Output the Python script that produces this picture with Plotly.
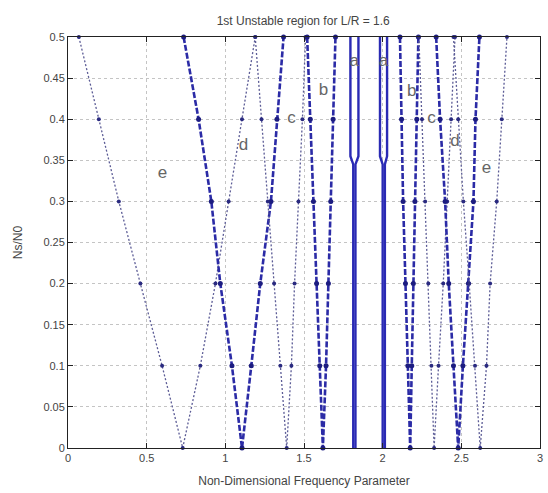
import plotly.graph_objects as go

# Non-dimensional frequency at Ns/N0 = 0, 0.1, ..., 0.5 for each boundary
ns_levels = [0, 0.1, 0.2, 0.3, 0.4, 0.5]

e1_left = [0.729, 0.598, 0.460, 0.323, 0.196, 0.069]
e1_right = [0.729, 0.841, 0.937, 1.021, 1.106, 1.190]
d1_left = [1.106, 1.042, 0.968, 0.911, 0.830, 0.735]
d1_right = [1.106, 1.165, 1.222, 1.290, 1.328, 1.370]
c1_left = [1.390, 1.350, 1.310, 1.270, 1.230, 1.190]
c1_right = [1.390, 1.420, 1.440, 1.465, 1.490, 1.510]
b1_left = [1.620, 1.600, 1.580, 1.560, 1.540, 1.520]
b1_right = [1.620, 1.640, 1.655, 1.670, 1.685, 1.700]
b2_left = [2.175, 2.160, 2.145, 2.130, 2.120, 2.110]
b2_right = [2.175, 2.185, 2.195, 2.205, 2.217, 2.227]
c2_left = [2.327, 2.310, 2.290, 2.270, 2.250, 2.230]
c2_right = [2.327, 2.355, 2.385, 2.410, 2.435, 2.460]
d2_left = [2.480, 2.450, 2.420, 2.397, 2.365, 2.340]
d2_right = [2.480, 2.510, 2.545, 2.577, 2.590, 2.615]
e2_left = [2.620, 2.587, 2.550, 2.513, 2.480, 2.450]
e2_right = [2.620, 2.660, 2.683, 2.725, 2.757, 2.790]

# Narrow "a" regions
a_levels = [0, 0.345, 0.355, 0.5]
a1_left = [1.813, 1.813, 1.795, 1.795]
a1_right = [1.827, 1.827, 1.846, 1.846]
a2_left = [2.000, 2.000, 1.983, 1.983]
a2_right = [2.014, 2.014, 2.028, 2.028]

# Region labels
label_text = ["e", "d", "c", "b", "a", "a", "b", "c", "d", "e"]
label_x = [0.60, 1.116, 1.42, 1.624, 1.82, 2.005, 2.185, 2.31, 2.46, 2.66]
label_y = [0.334, 0.368, 0.40, 0.435, 0.47, 0.47, 0.433, 0.40, 0.372, 0.34]

x_ticks = [0, 0.5, 1, 1.5, 2, 2.5, 3]
x_tick_text = ["0", "0.5", "1", "1.5", "2", "2.5", "3"]
y_ticks = [0, 0.05, 0.1, 0.15, 0.2, 0.25, 0.3, 0.35, 0.4, 0.45, 0.5]
y_tick_text = ["0", "0.05", "0.1", "0.15", "0.2", "0.25", "0.3", "0.35", "0.4", "0.45", "0.5"]

DOTTED = dict(color="#5c5c96", width=1.3, dash="2px,2px")
DASHED = dict(color="#2b2ba6", width=2.6, dash="6px,2px")
SOLID = dict(color="#2a2ab4", width=2.4)
MARK_DOT = dict(symbol="circle", size=4, color="#2a2a80")
MARK_DASH = dict(symbol="circle", size=5, color="#1c1c80")

fig = go.Figure()


def add_region(left, right, line, marker):
    xs = list(reversed(left)) + right[1:]
    ys = list(reversed(ns_levels)) + ns_levels[1:]
    fig.add_trace(go.Scatter(x=xs, y=ys, mode="lines+markers", line=line,
                             marker=marker, cliponaxis=False, showlegend=False,
                             hoverinfo="skip"))


for left, right, style, mk in [
    (e1_left, e1_right, DOTTED, MARK_DOT),
    (d1_left, d1_right, DASHED, MARK_DASH),
    (c1_left, c1_right, DOTTED, MARK_DOT),
    (b1_left, b1_right, DASHED, MARK_DASH),
    (b2_left, b2_right, DASHED, MARK_DASH),
    (c2_left, c2_right, DOTTED, MARK_DOT),
    (d2_left, d2_right, DASHED, MARK_DASH),
    (e2_left, e2_right, DOTTED, MARK_DOT),
]:
    add_region(left, right, style, mk)

for xs in [a1_left, a1_right, a2_left, a2_right]:
    fig.add_trace(go.Scatter(x=xs, y=a_levels, mode="lines", line=SOLID,
                             cliponaxis=False, showlegend=False, hoverinfo="skip"))

fig.add_trace(go.Scatter(x=label_x, y=label_y, mode="text", text=label_text,
                         textfont=dict(family="Liberation Sans, Arial", size=17, color="#666666"),
                         showlegend=False, hoverinfo="skip"))

axis_common = dict(
    showgrid=True, gridcolor="#c4c4c4", griddash="dot", gridwidth=1,
    showline=True, linecolor="#222222", linewidth=1, mirror="ticks",
    ticks="inside", ticklen=5, tickcolor="#222222", zeroline=False,
    automargin=False,
    tickfont=dict(family="Liberation Sans, Arial", size=11, color="#444444"),
)

fig.update_xaxes(range=[0, 3], tickvals=x_ticks, ticktext=x_tick_text,
                 title=dict(text="Non-Dimensional Frequency Parameter", standoff=13,
                            font=dict(family="Liberation Sans, Arial", size=12, color="#444444")),
                 **axis_common)
fig.update_yaxes(range=[0, 0.5], tickvals=y_ticks, ticktext=y_tick_text,
                 title=dict(text="Ns/N0", standoff=18,
                            font=dict(family="Liberation Sans, Arial", size=12, color="#444444")),
                 **axis_common)

fig.update_layout(
    width=548, height=493,
    margin=dict(l=68, r=8, t=37, b=45),
    paper_bgcolor="white", plot_bgcolor="white",
    title=dict(text="1st Unstable region for L/R = 1.6", x=0.5533, xanchor="center",
               y=0.958, yanchor="middle",
               font=dict(family="Liberation Sans, Arial", size=12, color="#444444")),
)

fig.write_html("out.html")
